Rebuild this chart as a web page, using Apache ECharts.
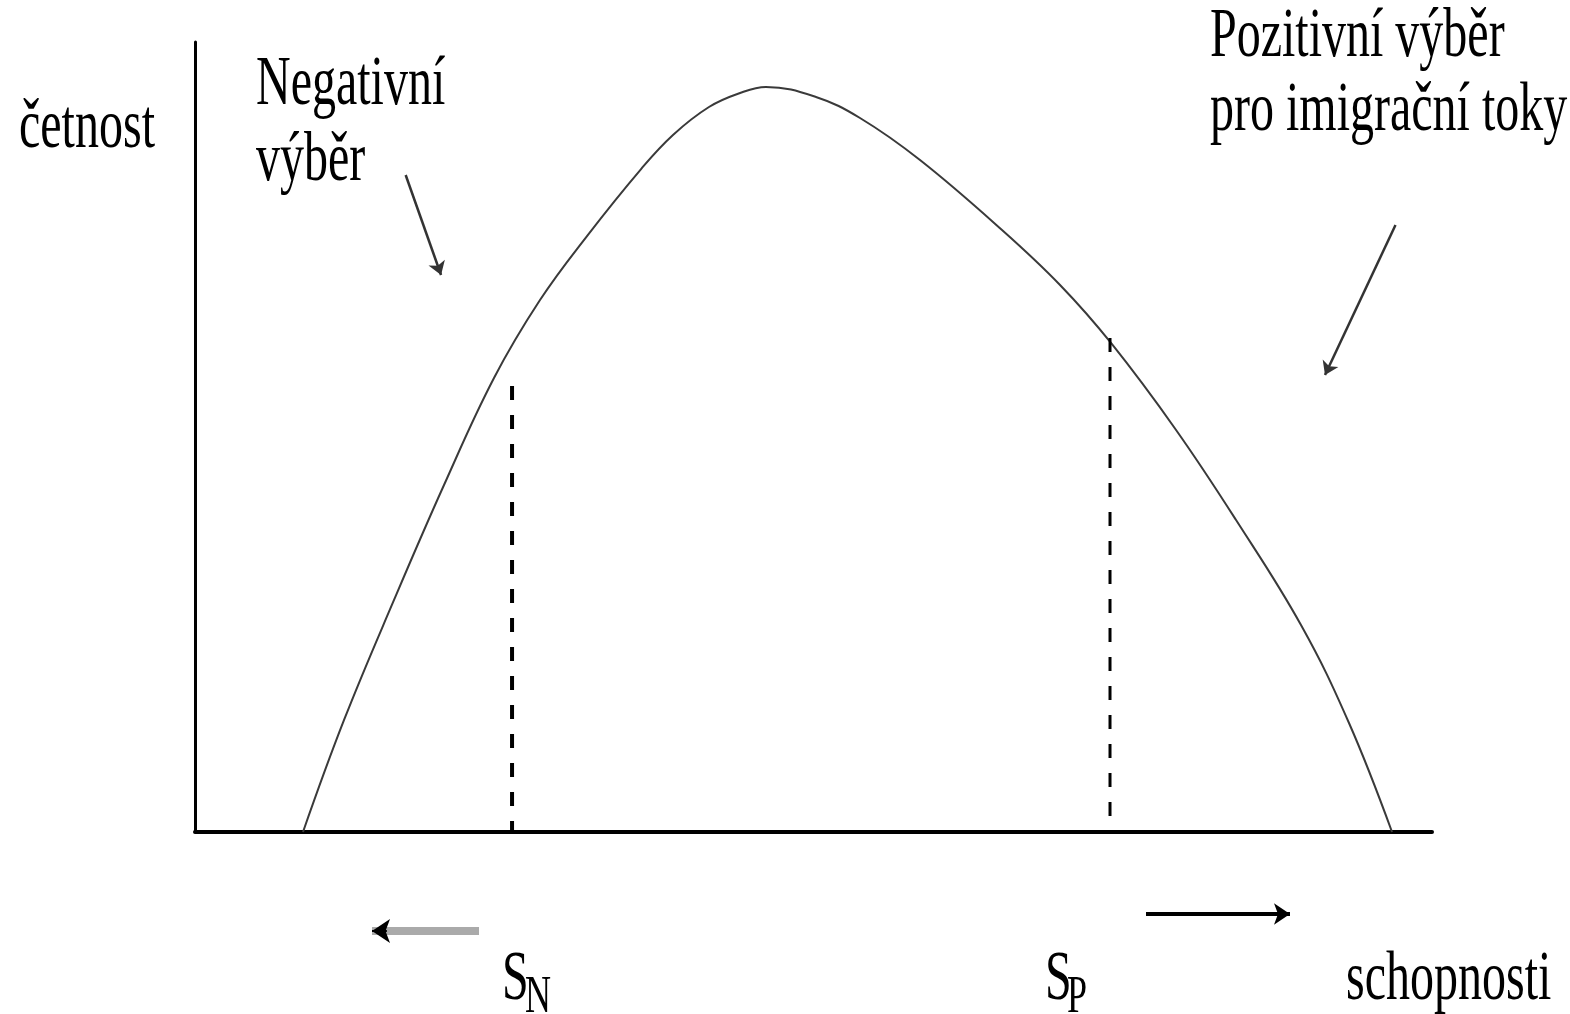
<!DOCTYPE html>
<html>
<head>
<meta charset="utf-8">
<script src="https://cdn.jsdelivr.net/npm/echarts@6/dist/echarts.min.js"></script>
<style>
html, body { margin: 0; padding: 0; background: #fff; }
#chart { width: 1570px; height: 1014px; }
</style>
</head>
<body>
<div id="chart"></div>
<script>
// křivka rozdělení schopností (x = schopnosti, y = četnost)
var schopnosti = [8.73, 12.05, 16.09, 20.13, 24.17, 27.89, 31.69, 36.06, 38.64, 41.55, 44.06, 46.16, 50.20, 53.76, 58.61, 65.24, 69.93, 74.05, 79.31, 84.16, 89.41, 93.29, 96.77];
var cetnost    = [0, 14.18, 29.37, 43.92, 57.47, 67.34, 75.44, 83.92, 88.23, 91.77, 93.54, 94.30, 93.04, 90.38, 85.06, 76.20, 69.24, 61.90, 50.89, 39.49, 26.20, 13.80, 0];

// hranice výběru: [x, výška čárkované čáry]
var hraniceSN = [25.63, 56.46];
var hraniceSP = [73.97, 62.53];

// šipky [[x0, y0], [x1, y1]]
var sipkaNegativni = [[17.03, 83.16], [19.89, 70.51]];
var sipkaPozitivni = [[97.05, 76.84], [91.35, 57.85]];
var sipkaVlevo     = [[22.96, -12.53], [14.31, -12.53]];
var sipkaVpravo    = [[76.88, -10.38], [88.52, -10.38]];

// popisky
var popisOsyY = 'četnost';
var popisOsyX = 'schopnosti';
var popisNegativni = ['Negativní', 'výběr'];
var popisPozitivni = ['Pozitivní výběr', 'pro imigrační toky'];

var myChart = echarts.init(document.getElementById('chart'));

var FONT = '48px "Liberation Serif"';
var FONT_SUB = '36px "Liberation Serif"';
var SY = 1.45; // text v předloze je svisle protažený

function txt(text, x, baseline, font, size) {
	// verticalAlign middle -> střed em boxu je cca 0.305em nad účařím
	return {
		type: 'text',
		x: x,
		y: baseline - 0.305 * size * SY,
		scaleY: SY,
		silent: true,
		style: { text: text, font: font, fill: '#000', verticalAlign: 'middle', align: 'left' }
	};
}

var krivka = schopnosti.map(function (x, i) { return [x, cetnost[i]]; });

var option = {
	animation: false,
	backgroundColor: '#fff',
	grid: { left: 195, right: 138, top: 42, bottom: 182 },
	xAxis: {
		type: 'value', min: 0, max: 100,
		axisLine: { show: true, onZero: false, lineStyle: { color: '#000', width: 4 } },
		axisTick: { show: false }, axisLabel: { show: false }, splitLine: { show: false }
	},
	yAxis: {
		type: 'value', min: 0, max: 100,
		axisLine: { show: true, onZero: false, lineStyle: { color: '#000', width: 3 } },
		axisTick: { show: false }, axisLabel: { show: false }, splitLine: { show: false }
	},
	series: [
		{
			type: 'line', data: krivka, smooth: 0.4, symbol: 'none', silent: true,
			lineStyle: { color: '#3a3a3a', width: 2 }
		},
		{
			type: 'line', symbol: 'none', silent: true,
			data: [[hraniceSN[0], hraniceSN[1]], [hraniceSN[0], 0]],
			lineStyle: { color: '#000', width: 4, type: [14, 15] }
		},
		{
			type: 'line', symbol: 'none', silent: true,
			data: [[hraniceSP[0], hraniceSP[1]], [hraniceSP[0], 0]],
			lineStyle: { color: '#000', width: 3, type: [14, 15] }
		},
		{
			type: 'lines', coordinateSystem: 'cartesian2d', clip: false, silent: true,
			symbol: ['none', 'arrow'], symbolSize: 13,
			lineStyle: { color: '#333', width: 2.5, opacity: 1 },
			data: [{ coords: sipkaNegativni }, { coords: sipkaPozitivni }]
		},
		{
			type: 'lines', coordinateSystem: 'cartesian2d', clip: false, silent: true,
			symbol: ['none', 'none'],
			lineStyle: { color: '#aaa', width: 8, opacity: 1 },
			data: [{ coords: sipkaVlevo }]
		},
		{
			type: 'lines', coordinateSystem: 'cartesian2d', clip: false, silent: true,
			symbol: ['none', 'arrow'], symbolSize: 18,
			lineStyle: { color: '#000', width: 2, opacity: 1 },
			data: [{ coords: [[sipkaVlevo[1][0] + 1.2, sipkaVlevo[1][1]], sipkaVlevo[1]] }]
		},
		{
			type: 'lines', coordinateSystem: 'cartesian2d', clip: false, silent: true,
			symbol: ['none', 'arrow'], symbolSize: 16,
			lineStyle: { color: '#000', width: 4, opacity: 1 },
			data: [{ coords: sipkaVpravo }]
		}
	],
	graphic: [
		txt(popisOsyY, 19, 150, FONT, 48),
		txt(popisNegativni[0], 256, 107, FONT, 48),
		txt(popisNegativni[1], 256, 183, FONT, 48),
		txt(popisPozitivni[0], 1210, 59, FONT, 48),
		txt(popisPozitivni[1], 1210, 133, FONT, 48),
		txt('S', 502, 1002, FONT, 48),
		txt('N', 525, 1014, FONT_SUB, 36),
		txt('S', 1045, 1002, FONT, 48),
		txt('P', 1067, 1014, FONT_SUB, 36),
		txt(popisOsyX, 1346, 1002, FONT, 48)
	]
};

myChart.setOption(option);

window.addEventListener('resize', function () {
	myChart.resize();
});
</script>
</body>
</html>
